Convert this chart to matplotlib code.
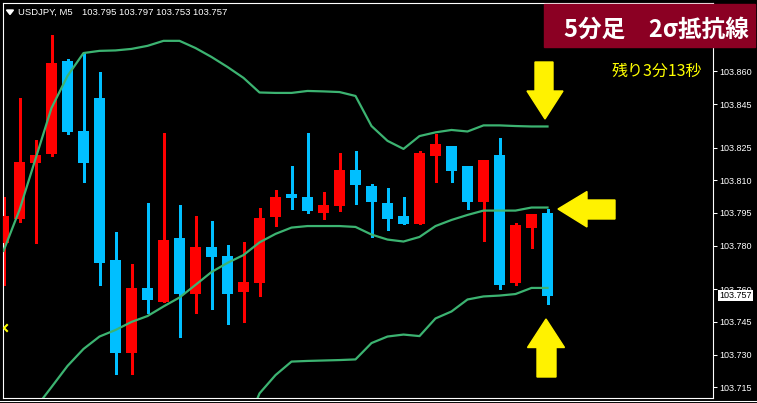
import numpy as np
import matplotlib.pyplot as plt
from matplotlib.patches import Polygon, Rectangle
from matplotlib.transforms import Affine2D, blended_transform_factory
from matplotlib.lines import Line2D

plt.rcParams['font.family'] = ['Liberation Sans', 'Noto Sans CJK JP', 'DejaVu Sans']

symbol = 'USDJPY, M5'
title = '5分足\u30002σ抵抗線'
timer = '残り3分13秒'

opens = [103.7814, 103.7923, 103.8181, 103.8222, 103.8648, 103.8326, 103.8478, 103.7734, 103.7307, 103.7606,
         103.7542, 103.7835, 103.7578, 103.7794, 103.7753, 103.7587, 103.7629, 103.7932, 103.8037, 103.8023,
         103.7950, 103.7982, 103.8147, 103.8074, 103.7996, 103.7936, 103.7900, 103.8212, 103.8258, 103.8166,
         103.8001, 103.8216, 103.7629, 103.7881, 103.795]
highs = [103.8025, 103.8478, 103.8285, 103.8767, 103.8657, 103.8686, 103.8597, 103.7863, 103.7716, 103.7996,
         103.8317, 103.7987, 103.7936, 103.7913, 103.7803, 103.7817, 103.7973, 103.8056, 103.8166, 103.8317,
         103.8046, 103.8225, 103.8235, 103.8083, 103.8065, 103.8023, 103.8235, 103.8313, 103.8258, 103.8166,
         103.8193, 103.8294, 103.7904, 103.7945, 103.797]
lows = [103.7619, 103.7910, 103.7814, 103.8212, 103.8314, 103.8094, 103.7619, 103.7212, 103.7212, 103.7490,
        103.7542, 103.7381, 103.7491, 103.7509, 103.7441, 103.7450, 103.7569, 103.7890, 103.7968, 103.7950,
        103.7923, 103.7959, 103.7991, 103.7840, 103.7872, 103.7900, 103.7900, 103.8092, 103.8092, 103.7968,
        103.7822, 103.7601, 103.7620, 103.7789, 103.753]
closes = [103.7936, 103.8184, 103.8216, 103.8639, 103.8323, 103.8181, 103.7722, 103.7307, 103.7606, 103.7551,
          103.7826, 103.7578, 103.7794, 103.7748, 103.7578, 103.7633, 103.7927, 103.8023, 103.8019, 103.7959,
          103.7987, 103.8147, 103.8079, 103.8001, 103.7923, 103.7900, 103.8226, 103.8267, 103.8143, 103.8001,
          103.8193, 103.7620, 103.7895, 103.7945, 103.757]

band_upper = [103.7776, 103.7964, 103.8198, 103.8432, 103.8579, 103.8684, 103.8694, 103.8696, 103.8703, 103.8717,
              103.8740, 103.8740, 103.8707, 103.8666, 103.8620, 103.8570, 103.8503, 103.8501, 103.8501, 103.8510,
              103.8508, 103.8505, 103.8487, 103.8349, 103.8281, 103.8244, 103.8303, 103.8320, 103.8331, 103.8324,
              103.8352, 103.8352, 103.8349, 103.8347, 103.8347]
band_middle = [103.6885, 103.6963, 103.7055, 103.7151, 103.7248, 103.7326, 103.7383, 103.7413, 103.7450, 103.7477,
               103.7521, 103.7562, 103.7620, 103.7679, 103.7721, 103.7757, 103.7815, 103.7854, 103.7883, 103.7890,
               103.7890, 103.7890, 103.7886, 103.7851, 103.7828, 103.7819, 103.7840, 103.7890, 103.7918, 103.7941,
               103.7961, 103.7961, 103.7961, 103.7975, 103.7975]
band_lower = [103.5994, 103.5962, 103.5912, 103.5870, 103.5917, 103.5968, 103.6072, 103.6130, 103.6197, 103.6237,
              103.6302, 103.6384, 103.6533, 103.6692, 103.6822, 103.6944, 103.7122, 103.7206, 103.7268, 103.7271,
              103.7273, 103.7275, 103.7278, 103.7353, 103.7383, 103.7392, 103.7385, 103.7466, 103.7498, 103.7553,
              103.7567, 103.7571, 103.7578, 103.7606, 103.7606]

price_ticks = [103.860, 103.845, 103.825, 103.810, 103.795, 103.780, 103.760, 103.745, 103.730, 103.715]

up_color = '#ff0000'
down_color = '#00bfff'
band_color = '#3cb371'
arrow_color = '#fff200'

W, H = 757, 403


def pixel_transform(fig):
    # screen pixels, origin top-left
    return Affine2D().scale(1 / W, -1 / H).translate(0, 1) + fig.transFigure


def draw_candles(ax):
    o = np.array(opens)
    c = np.array(closes)
    x = np.arange(len(o))
    colors = np.where(c >= o, up_color, down_color)
    ax.vlines(x, lows, highs, colors=colors, linewidth=0.75, antialiased=False, zorder=2)
    ax.bar(x, np.abs(c - o), bottom=np.minimum(o, c), width=11 / 16, color=colors,
           linewidth=0, zorder=3)
    for band in (band_upper, band_middle, band_lower):
        ax.plot(x, band, color=band_color, linewidth=1.6, zorder=4)


fig = plt.figure(figsize=(W / 100, H / 100), dpi=100, facecolor='black')
ax = fig.add_axes([2.5 / W, (H - 398.3) / H, 710 / W, 395.6 / H], facecolor='black')

draw_candles(ax)

ax.set_xlim(-1 / 16, (712.5 - 3.5) / 16)
ax.set_ylim(103.715 - 11 / 2179, 103.715 + 384.6 / 2179)
ax.set_xticks([])
ax.yaxis.tick_right()
ax.set_yticks(price_ticks)
ax.set_yticklabels([f'{p:.3f}' for p in price_ticks])
ax.tick_params(axis='y', direction='out', length=3, width=0.75, color='white',
               labelcolor='white', labelsize=6.5, pad=2)
for spine in ax.spines.values():
    spine.set_color('white')
    spine.set_linewidth(0.8)

# current price box
tr_price = blended_transform_factory(ax.transAxes, ax.transData)
ax.text(1.0095, closes[-1], f'{closes[-1]:.3f}', transform=tr_price, color='black', fontsize=6.5,
        va='center', ha='left', clip_on=False, zorder=6,
        bbox=dict(boxstyle='square,pad=0.12', fc='white', ec='none'))

px = pixel_transform(fig)

# header
fig.patches.append(Polygon([(6.5, 10), (13.5, 10), (10, 14.5)], closed=True, color='white', transform=px))
fig.text(18, 12.5, symbol, transform=px, color='white', fontsize=6.8, va='center')
fig.text(82, 12.5, ' '.join(f'{v[-1]:.3f}' for v in (opens, highs, lows, closes)), transform=px,
         color='white', fontsize=6.8, va='center')

# label box
fig.patches.append(Rectangle((544, 4), 211, 43, color='#8b0023', transform=px, zorder=5))
fig.text(656.5, 29.5, title, transform=px, color='white', fontsize=17, fontweight='bold',
         family=['Noto Sans CJK JP', 'DejaVu Sans'], ha='center', va='center', zorder=6)
fig.text(702, 71, timer, transform=px, color='#ffff00', fontsize=11.5,
         family=['Noto Sans CJK JP', 'DejaVu Sans'], ha='right', va='center')

# arrows
arrows = [
    [(535, 62), (553, 62), (553, 91), (563, 91), (545, 119), (527, 91), (535, 91)],
    [(558, 209), (587, 191.5), (587, 200), (615, 200), (615, 219), (587, 219), (587, 227)],
    [(546, 319), (564.5, 347.5), (556, 347.5), (556, 377), (537, 377), (537, 347.5), (527.5, 347.5)],
]
for pts in arrows:
    fig.patches.append(Polygon(pts, closed=True, color=arrow_color, transform=px, zorder=7))

fig.lines.append(Line2D([7, 4, 7], [325, 328, 331], color='#ffff00', linewidth=1.5, transform=px))
fig.lines.append(Line2D([0, W], [401, 401], color='white', linewidth=0.8, transform=px))

fig.savefig('out.png', dpi=100, facecolor='black')
